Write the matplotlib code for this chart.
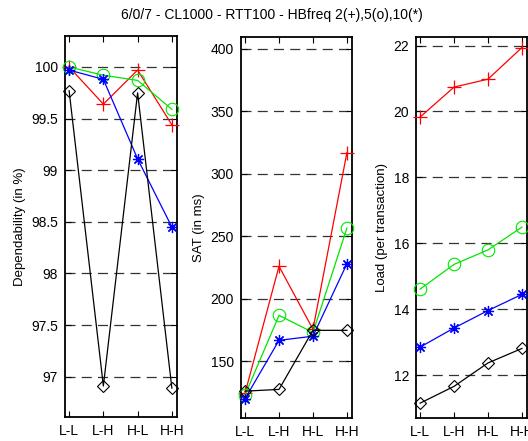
import matplotlib
matplotlib.use("Agg")
import matplotlib.pyplot as plt
import numpy as np

plt.rcParams['font.family'] = ['Liberation Sans', 'DejaVu Sans']

categories = ["L-L", "L-H", "H-L", "H-H"]

# Dependability (in %)
dep_red = [100.0, 99.64, 99.97, 99.44]
dep_green = [100.0, 99.92, 99.87, 99.59]
dep_blue = [99.97, 99.88, 99.11, 98.45]
dep_black = [99.77, 96.91, 99.75, 96.89]

# SAT (in ms)
sat_red = [124.5, 226, 175.5, 317]
sat_green = [123, 186.7, 173, 256.6]
sat_blue = [120, 166.7, 170, 228]
sat_black = [126, 127.4, 174.7, 174.7]

# Load (per transaction)
load_red = [19.83, 20.74, 20.98, 21.94]
load_green = [14.61, 15.36, 15.80, 16.49]
load_blue = [12.85, 13.43, 13.96, 14.45]
load_black = [11.15, 11.66, 12.37, 12.81]

title = "6/0/7 - CL1000 - RTT100 - HBfreq 2(+),5(o),10(*)"

W, H = 528, 441
fig = plt.figure(figsize=(W / 100, H / 100), dpi=100)

def frac(l, r, t, b):
    return [l / W, (H - b) / H, (r - l) / W, (b - t) / H]

panels = [
    dict(rect=frac(65, 177, 36, 417), data=[dep_red, dep_green, dep_blue, dep_black],
         ylim=(96.61, 100.30), yticks=[97, 97.5, 98, 98.5, 99, 99.5, 100],
         yticklabels=["97", "97.5", "98", "98.5", "99", "99.5", "100"],
         ylabel="Dependability (in %)"),
    dict(rect=frac(241, 352, 37, 418), data=[sat_red, sat_green, sat_blue, sat_black],
         ylim=(104.5, 409.6), yticks=[150, 200, 250, 300, 350, 400],
         yticklabels=["150", "200", "250", "300", "350", "400"],
         ylabel="SAT (in ms)"),
    dict(rect=frac(416, 527, 37, 418), data=[load_red, load_green, load_blue, load_black],
         ylim=(10.7, 22.26), yticks=[12, 14, 16, 18, 20, 22],
         yticklabels=["12", "14", "16", "18", "20", "22"],
         ylabel="Load (per transaction)"),
]

styles = [
    dict(color=(1, 0, 0), marker='+', markersize=10, markeredgewidth=0.9),
    dict(color=(0, 0.9, 0), marker='o', markersize=9, markerfacecolor='none', markeredgewidth=0.8),
    dict(color=(0, 0, 1), marker=(8, 2, 0), markersize=8, markeredgewidth=0.9),
    dict(color='black', marker='D', markersize=6.5, markerfacecolor='none', markeredgewidth=0.8),
]

x = np.arange(1, 5)
for p in panels:
    ax = fig.add_axes(p['rect'])
    for ys, st in zip(p['data'], styles):
        ax.plot(x, ys, linewidth=0.9, **st, clip_on=False, zorder=3)
    ax.set_xlim(0.88, 4.15)
    ax.set_ylim(*p['ylim'])
    ax.set_xticks(x)
    ax.set_xticklabels(categories)
    ax.set_yticks(p['yticks'])
    ax.set_yticklabels(p['yticklabels'])
    for yv in p['yticks']:
        ax.axhline(yv, color='0.2', linewidth=0.9, linestyle=(0, (8, 5)), zorder=1)
    ax.tick_params(direction='in', length=4, width=0.8, top=True, right=True,
                   labelsize=10, colors='black', pad=5)
    for s in ax.spines.values():
        s.set_linewidth(1.3)
    ax.set_ylabel(p['ylabel'], fontsize=9.5, labelpad=4)

fig.text(272 / W, 1 - 15 / H, title, ha='center', va='center', fontsize=10)

fig.savefig("out.png", dpi=100)
